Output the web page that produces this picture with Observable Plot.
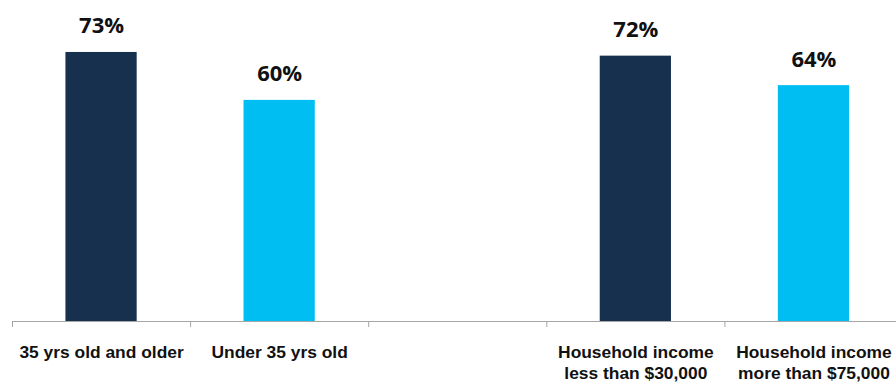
<!DOCTYPE html>
<html>
<head>
<meta charset="utf-8">
<script src="https://cdn.jsdelivr.net/npm/d3@7"></script>
<script src="https://cdn.jsdelivr.net/npm/@observablehq/plot@0.6"></script>
<style>
  html, body { margin: 0; padding: 0; background: #fff; overflow: hidden; }
</style>
</head>
<body>
<div id="chart"></div>
<script>
const categories = ["35 yrs old and older", "Under 35 yrs old", "", "Household income\nless than $30,000", "Household income\nmore than $75,000"];
const values = [73, 60, null, 72, 64];
const valueLabels = ["73%", "60%", "", "72%", "64%"];
const barColors = ["#17304E", "#00BEF2", "#ffffff", "#17304E", "#00BEF2"];

const data = categories.map((c, i) => ({i, category: c, value: values[i], label: valueLabels[i], color: barColors[i]}));
const bars = data.filter(d => d.value != null);
const boundaries = d3.range(categories.length).map(i => i - 0.5);
const half = 0.2;

const chart = Plot.plot({
  width: 896,
  height: 382,
  marginTop: 0,
  marginLeft: 12,
  marginRight: 0,
  marginBottom: 61,
  style: {fontFamily: "'Liberation Sans', Arial, sans-serif", background: "#fff", color: "#000", overflow: "hidden"},
  x: {type: "linear", domain: [-0.5, categories.length - 0.5], range: [12, 902.5], label: null},
  y: {domain: [0, 87.1], axis: null, label: null},
  marks: [
    Plot.rectY(bars, {x1: d => d.i - half, x2: d => d.i + half, y1: 0, y2: "value", fill: "color"}),
    Plot.ruleY([0], {stroke: "#a6a6a6", strokeWidth: 1}),
    Plot.axisX(boundaries, {tickSize: 6, tickFormat: () => "", label: null, stroke: "#a6a6a6"}),
    Plot.text(bars, {x: "i", y: "value", text: "label", lineAnchor: "bottom", dy: -19,
      fontFamily: "'Open Sans', sans-serif", fontWeight: "bold", fontSize: 22, fill: "#111"}),
    Plot.text(data, {x: "i", y: 0, text: "category", lineAnchor: "top", dy: 21, lineHeight: 1.22,
      fontWeight: "bold", fontSize: 17.4, fill: "#111"})
  ]
});
document.getElementById("chart").appendChild(chart);
</script>
</body>
</html>
